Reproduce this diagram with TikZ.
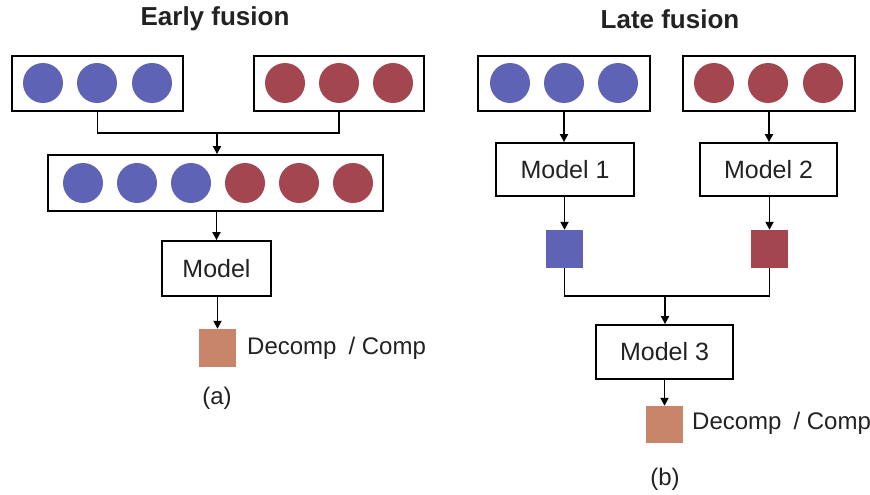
\documentclass[tikz,border=0pt]{standalone}
\usepackage{fontspec}
\setmainfont{Liberation Sans}
\usetikzlibrary{arrows.meta}
\definecolor{cblue}{HTML}{5E63B6}
\definecolor{cred}{HTML}{A3464F}
\definecolor{corange}{HTML}{C8856A}
\definecolor{ctext}{HTML}{222222}
\tikzset{
  frame/.style={draw=black, line width=1.8pt, fill=white, inner sep=0pt},
  dot/.style={circle, inner sep=0pt, minimum size=40pt},
  bdot/.style={dot, fill=cblue},
  rdot/.style={dot, fill=cred},
  sq/.style={inner sep=0pt, minimum width=37pt, minimum height=38pt},
  modelbox/.style={frame, text=ctext, font=\fontsize{25}{30}\selectfont},
  conn/.style={line width=1.8pt, black},
  arr/.style={conn, -{Triangle[length=8pt,width=8pt]}},
  title/.style={font=\fontsize{26}{30}\selectfont\bfseries, text=ctext},
  lab/.style={font=\fontsize{24}{28}\selectfont, text=ctext, inner sep=0pt}
}
\begin{document}
\begin{tikzpicture}[x=1pt,y=-1pt]
\useasboundingbox (0,0) rectangle (870,495);
\fill[white] (0,0) rectangle (870,495);

% ---------- (a) Early fusion ----------
\node[title] (ta) at (215,19) {Early fusion};
\node[frame, minimum width=171pt, minimum height=55pt] (tl) at (97.5,83.5) {};
\node[bdot] (tl1) at (43,83) {};
\node[bdot] (tl2) at (97,83) {};
\node[bdot] (tl3) at (152,83) {};
\node[frame, minimum width=170pt, minimum height=55pt] (tr) at (339,83.5) {};
\node[rdot] (tr1) at (285,83) {};
\node[rdot] (tr2) at (339,83) {};
\node[rdot] (tr3) at (393,83) {};

\node[frame, minimum width=335pt, minimum height=56pt] (mid) at (215.5,183) {};
\node[bdot] (m1) at (83,183) {};
\node[bdot] (m2) at (137,183) {};
\node[bdot] (m3) at (191,183) {};
\node[rdot] (m4) at (245,183) {};
\node[rdot] (m5) at (299,183) {};
\node[rdot] (m6) at (353,183) {};

\coordinate (ja) at (217,133);
\draw[conn] (tl.south) -- (tl.south |- ja) -- (tr.south |- ja) -- (tr.south);
\draw[arr] (ja) -- (ja |- mid.north);

\node[modelbox, minimum width=109pt, minimum height=55pt] (model) at (216.5,268.5) {Model};
\draw[arr] (model.north |- mid.south) -- (model.north);
\node[sq, fill=corange] (sqa) at (217.5,348) {};
\draw[arr] (model.south) -- (model.south -| sqa.north) -- (sqa.north);
\node[lab, anchor=west] (da) at (247,348) {Decomp\hspace{0.5em}/ Comp};
\node[lab] (la) at (217,398) {(a)};

% ---------- (b) Late fusion ----------
\node[title] (tb) at (670,19) {Late fusion};
\node[frame, minimum width=172pt, minimum height=55pt] (bl) at (564,83.5) {};
\node[bdot] (bl1) at (510,83) {};
\node[bdot] (bl2) at (564,83) {};
\node[bdot] (bl3) at (618,83) {};
\node[frame, minimum width=172pt, minimum height=55pt] (br) at (769,83.5) {};
\node[rdot] (br1) at (714,83) {};
\node[rdot] (br2) at (768,83) {};
\node[rdot] (br3) at (823,83) {};

\node[modelbox, minimum width=138pt, minimum height=53pt] (mo1) at (565,169.5) {Model 1};
\node[modelbox, minimum width=137pt, minimum height=53pt] (mo2) at (768.5,169.5) {Model 2};
\draw[arr] (bl.south) -- (bl.south |- mo1.north);
\draw[arr] (br.south) -- (br.south |- mo2.north);

\node[sq, fill=cblue] (sb1) at (564.5,249) {};
\node[sq, fill=cred] (sb2) at (769.5,249) {};
\draw[arr] (sb1.north |- mo1.south) -- (sb1.north);
\draw[arr] (sb2.north |- mo2.south) -- (sb2.north);

\coordinate (jb) at (665,296);
\draw[conn] (sb1.south) -- (sb1.south |- jb) -- (sb2.south |- jb) -- (sb2.south);
\node[modelbox, minimum width=137pt, minimum height=54pt] (mo3) at (664.5,352) {Model 3};
\draw[arr] (jb) -- (jb |- mo3.north);

\node[sq, fill=corange, minimum height=37pt] (sqb) at (664.5,424.5) {};
\draw[arr] (mo3.south) -- (sqb.north);
\node[lab, anchor=west] (db) at (692,423) {Decomp\hspace{0.5em}/ Comp};
\node[lab] (lb) at (665,479) {(b)};
\end{tikzpicture}
\end{document}
